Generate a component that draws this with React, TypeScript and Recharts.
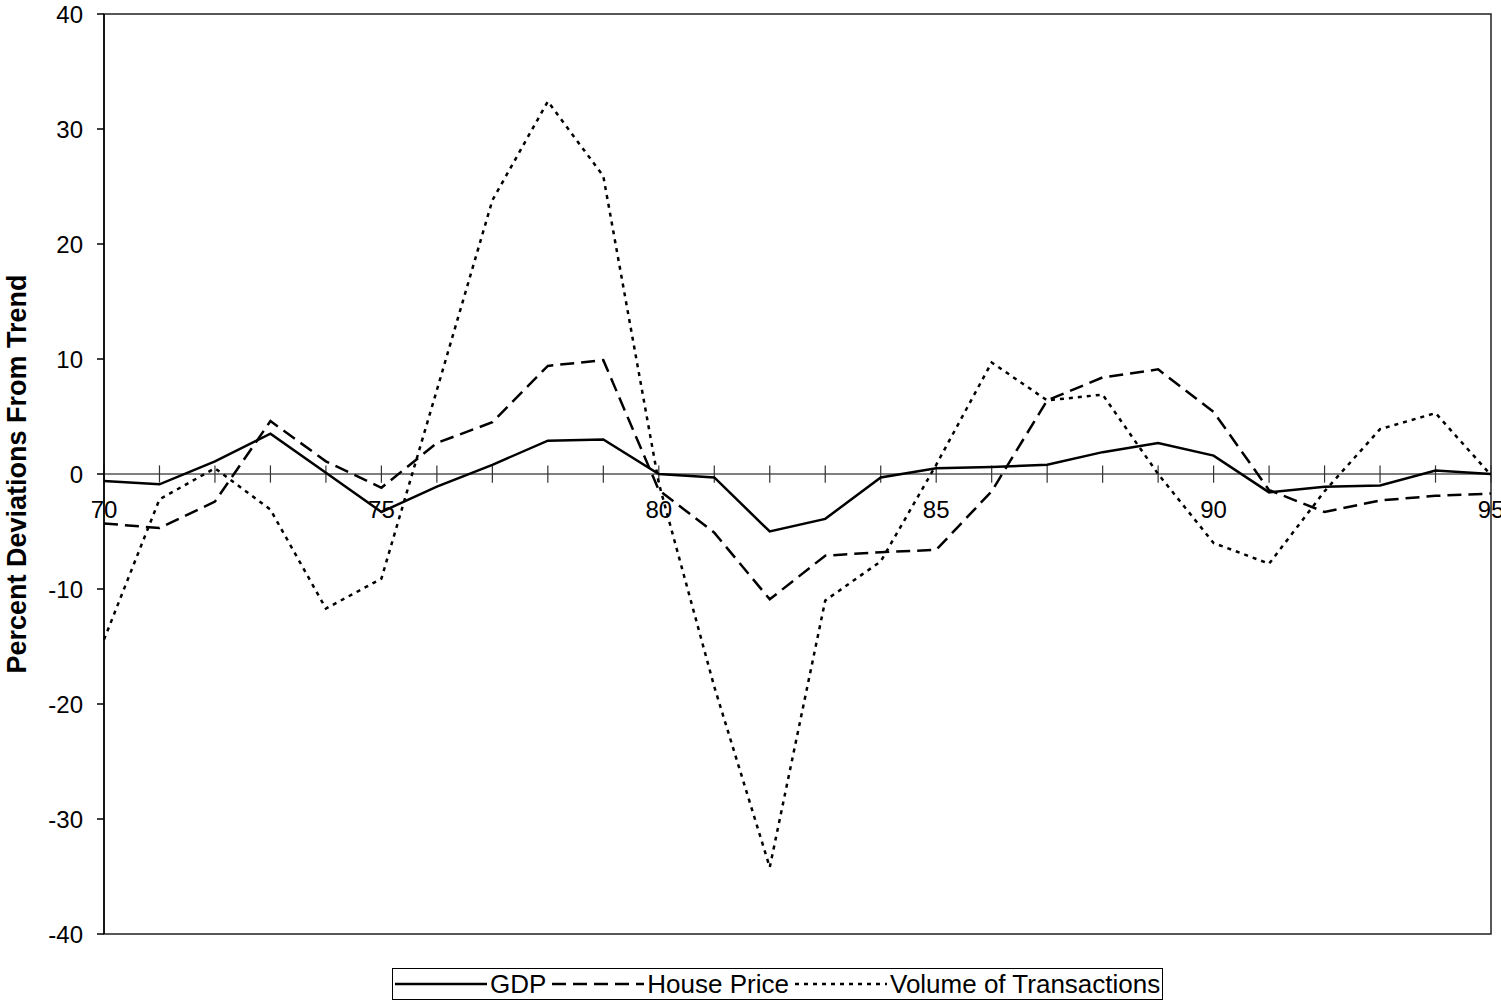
import React from "react";
import {
  LineChart,
  Line,
  XAxis,
  YAxis,
  ReferenceLine,
  ReferenceDot,
  ReferenceArea,
  Legend,
} from "recharts";

const YEARS = [
  70, 71, 72, 73, 74, 75, 76, 77, 78, 79, 80, 81, 82, 83, 84, 85, 86, 87, 88, 89, 90, 91, 92, 93, 94, 95,
];
const GDP = [
  -0.6, -0.9, 1.1, 3.5, 0.1, -3.3, -1.1, 0.8, 2.9, 3.0, 0.0, -0.3, -5.0, -3.9, -0.3, 0.5, 0.6, 0.8, 1.9, 2.7,
  1.6, -1.6, -1.1, -1.0, 0.3, 0.0,
];
const HOUSE_PRICE = [
  -4.3, -4.7, -2.4, 4.6, 1.1, -1.2, 2.7, 4.5, 9.4, 9.9, -1.4, -5.1, -10.9, -7.1, -6.8, -6.6, -1.5, 6.4, 8.4,
  9.1, 5.4, -1.4, -3.3, -2.3, -1.9, -1.7,
];
const VOLUME = [
  -14.4, -2.2, 0.5, -3.1, -11.7, -9.1, 7.3, 23.8, 32.4, 25.9, -0.8, -18.5, -34.2, -11.0, -7.6, 0.8, 9.7, 6.4,
  6.9, 0.0, -6.0, -7.8, -1.5, 3.9, 5.3, -0.1,
];
const Y_TICKS = [-40, -30, -20, -10, 0, 10, 20, 30, 40];
const YEAR_LABELS = [70, 75, 80, 85, 90, 95];

const FONT = "'Liberation Sans', Arial, sans-serif";

const SERIES = [
  { key: "gdp", name: "GDP", dash: undefined as string | undefined },
  { key: "house", name: "House Price", dash: "14 7" },
  { key: "volume", name: "Volume of Transactions", dash: "4 5" },
];

const data = YEARS.map((year, i) => ({
  year,
  gdp: GDP[i],
  house: HOUSE_PRICE[i],
  volume: VOLUME[i],
}));

function YLabel({ viewBox }: any) {
  const cx = viewBox.x + 17;
  const cy = viewBox.y + viewBox.height / 2;
  return (
    <text
      x={cx}
      y={cy}
      transform={`rotate(-90, ${cx}, ${cy})`}
      textAnchor="middle"
      dominantBaseline="central"
      fontFamily={FONT}
      fontWeight="bold"
      fontSize={27}
      fill="#000"
    >
      Percent Deviations From Trend
    </text>
  );
}

function LegendBox() {
  return (
    <div
      style={{
        display: "inline-flex",
        alignItems: "center",
        border: "1px solid #000",
        padding: "0px 2px",
        background: "#fff",
        fontFamily: FONT,
        fontSize: 26,
        lineHeight: "30px",
        color: "#000",
      }}
    >
      {SERIES.map((s, i) => (
        <span
          key={s.key}
          style={{ display: "inline-flex", alignItems: "center", marginRight: i < SERIES.length - 1 ? 6 : 0 }}
        >
          <svg width={92} height={10} style={{ marginRight: 3 }}>
            <line x1={0} x2={92} y1={5} y2={5} stroke="#000" strokeWidth={2.5} strokeDasharray={s.dash} />
          </svg>
          {s.name}
        </span>
      ))}
    </div>
  );
}

export default function App() {
  return (
    <div style={{ position: "absolute", left: 0, top: 0 }}>
      <LineChart width={1501} height={1005} data={data} margin={{ top: 14, right: 10, left: 0, bottom: 5 }}>
        <XAxis
          dataKey="year"
          type="number"
          domain={[70, 95]}
          ticks={YEARS}
          tick={false}
          axisLine={false}
          tickLine={false}
          height={34}
        />
        <YAxis
          domain={[-40, 40]}
          ticks={Y_TICKS}
          width={104}
          tickSize={7}
          tickMargin={14}
          axisLine={{ stroke: "#000", strokeWidth: 1.5 }}
          tickLine={{ stroke: "#000", strokeWidth: 1.5 }}
          tick={{ fontFamily: FONT, fontSize: 24, fill: "#000" }}
          label={<YLabel />}
        />
        <ReferenceArea x1={70} x2={95} y1={-40} y2={40} fill="none" stroke="#222" strokeWidth={1.5} />
        <ReferenceLine y={0} stroke="#555" strokeWidth={1.5} />
        {YEARS.map((yr) => (
          <ReferenceLine
            key={`t${yr}`}
            segment={[
              { x: yr, y: -0.75 },
              { x: yr, y: 0.75 },
            ]}
            stroke="#333"
            strokeWidth={1.2}
          />
        ))}
        {YEAR_LABELS.map((yr) => (
          <ReferenceDot
            key={`l${yr}`}
            x={yr}
            y={0}
            r={0}
            fill="none"
            stroke="none"
            label={{
              value: String(yr),
              position: "bottom",
              offset: 27,
              fontFamily: FONT,
              fontSize: 24,
              fill: "#000",
            }}
          />
        ))}
        {SERIES.map((s) => (
          <Line
            key={s.key}
            type="linear"
            dataKey={s.key}
            name={s.name}
            stroke="#000"
            strokeWidth={2.5}
            strokeDasharray={s.dash}
            dot={false}
            activeDot={false}
            isAnimationActive={false}
          />
        ))}
        <Legend content={<LegendBox />} wrapperStyle={{ left: 392, width: "auto", bottom: 5 }} />
      </LineChart>
    </div>
  );
}
